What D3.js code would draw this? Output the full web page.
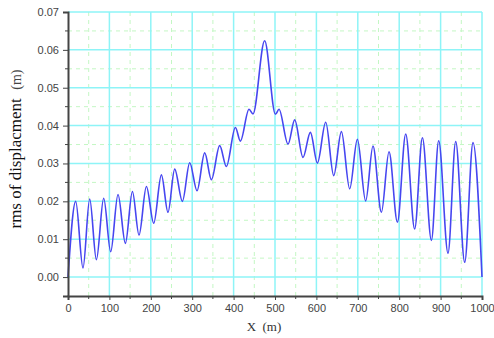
<!DOCTYPE html>
<html>
<head>
<meta charset="utf-8">
<script src="https://cdn.jsdelivr.net/npm/d3@7"></script>
<style>
  body { margin: 0; background: #fff; }
  svg { display: block; }
</style>
</head>
<body>
<svg width="494" height="338"></svg>
<script>
// peaks and troughs: position along X (m), rms (m)
var xPos = [0, 18.6, 36.2, 52.4, 68.6, 86.2, 103.1, 120.8, 138.6, 155.6, 171.5,
    189.4, 207, 225.6, 241.5, 257.7, 276.3, 294, 311.6, 330.2, 346.4, 366.4,
    382.6, 404.3, 416.4, 437.2, 446.9, 475, 501, 509.7, 531.4, 547.6, 567.6,
    585.5, 602.4, 622.5, 641.8, 660.4, 680.4, 699, 719, 736.7, 757, 775.4,
    795.7, 815.7, 837.4, 856, 877.8, 895.4, 917.9, 936.5, 958.2, 978.3, 1000];
var rms = [0, 0.0200, 0.0024, 0.0206, 0.0046, 0.0208, 0.0067, 0.0218, 0.0089, 0.0226, 0.0111,
    0.0239, 0.0142, 0.0270, 0.0171, 0.0285, 0.0200, 0.0302, 0.0228, 0.0328, 0.0257, 0.0347,
    0.0292, 0.0395, 0.0359, 0.0443, 0.0431, 0.0624, 0.0430, 0.0443, 0.0351, 0.0415, 0.0316,
    0.0382, 0.0301, 0.0409, 0.0268, 0.0384, 0.0233, 0.0364, 0.0201, 0.0346, 0.0171, 0.0331,
    0.0145, 0.0378, 0.0127, 0.0368, 0.0097, 0.0360, 0.0063, 0.0358, 0.0039, 0.0355, 0];

var xTicks = d3.range(0, 1001, 100);
var xMinor = d3.range(50, 1000, 100);
var yTicks = d3.range(0, 0.0701, 0.01);
var yMinor = d3.range(0.005, 0.07, 0.01);

var svg = d3.select("svg");
var mLeft = 68, mRight = 482, mTop = 12, mBottom = 296;

var x = d3.scaleLinear().domain([0, 1000]).range([mLeft, mRight]);
var y = d3.scaleLinear().domain([-0.005, 0.07]).range([mBottom, mTop]);

var grid = svg.append("g");

// minor grid, dashed light green
grid.selectAll(".vmin").data(xMinor).enter().append("line")
    .attr("x1", d => x(d)).attr("x2", d => x(d))
    .attr("y1", mTop).attr("y2", mBottom)
    .attr("stroke", "#c4f7c4").attr("stroke-width", 1)
    .attr("stroke-dasharray", "4,4");
grid.selectAll(".hmin").data(yMinor).enter().append("line")
    .attr("x1", mLeft).attr("x2", mRight)
    .attr("y1", d => y(d)).attr("y2", d => y(d))
    .attr("stroke", "#c4f7c4").attr("stroke-width", 1)
    .attr("stroke-dasharray", "4,4");

// major grid, cyan
grid.selectAll(".vmaj").data(xTicks.slice(1)).enter().append("line")
    .attr("x1", d => x(d)).attr("x2", d => x(d))
    .attr("y1", mTop).attr("y2", mBottom)
    .attr("stroke", "#8ef4f7").attr("stroke-width", 1.5);
grid.selectAll(".hmaj").data(yTicks).enter().append("line")
    .attr("x1", mLeft).attr("x2", mRight)
    .attr("y1", d => y(d)).attr("y2", d => y(d))
    .attr("stroke", "#8ef4f7").attr("stroke-width", 1.5);

// curve
var line = d3.line()
    .x(d => x(d[0]))
    .y(d => y(d[1]))
    .curve(d3.curveMonotoneX);

svg.append("path")
    .datum(d3.zip(xPos, rms))
    .attr("d", line)
    .attr("fill", "none")
    .attr("stroke", "#4646f0")
    .attr("stroke-width", 1.6);

// axes
var xAxis = svg.append("g")
    .attr("transform", "translate(0," + mBottom + ")")
    .call(d3.axisBottom(x).tickValues(xTicks).tickFormat(d3.format("d")).tickSize(4).tickPadding(4));
xAxis.append("g").selectAll("line").data(xMinor).enter().append("line")
    .attr("x1", d => x(d)).attr("x2", d => x(d))
    .attr("y1", 0).attr("y2", 3).attr("stroke", "#444");

var yAxis = svg.append("g")
    .attr("transform", "translate(" + mLeft + ",0)")
    .call(d3.axisLeft(y).tickValues(yTicks).tickFormat(d3.format(".2f")).tickSize(5).tickPadding(4));
yAxis.append("g").selectAll("line").data(yMinor).enter().append("line")
    .attr("y1", d => y(d)).attr("y2", d => y(d))
    .attr("x1", 0).attr("x2", -3).attr("stroke", "#444");

[xAxis, yAxis].forEach(function(a) {
    a.select(".domain").attr("stroke", "#444").attr("stroke-width", 2);
    a.selectAll(".tick line").attr("stroke", "#444");
    a.selectAll("text")
        .attr("fill", "#444")
        .style("font-family", "Liberation Sans, Arial, sans-serif")
        .style("font-size", "11px");
});

// titles
svg.append("text")
    .attr("x", 264).attr("y", 331)
    .attr("text-anchor", "middle")
    .style("font-family", "Liberation Serif, Times New Roman, serif")
    .style("font-size", "13px")
    .attr("fill", "#333")
    .attr("xml:space", "preserve")
    .text("X  (m)");

var yTitle = svg.append("text")
    .attr("transform", "translate(21,149) rotate(-90)")
    .attr("text-anchor", "middle")
    .style("font-family", "Liberation Serif, Times New Roman, serif")
    .style("font-size", "17px")
    .attr("fill", "#111")
    .attr("xml:space", "preserve");
yTitle.append("tspan").text("rms of displacment  ");
yTitle.append("tspan").style("font-size", "14px").attr("fill", "#444").text("(m)");
</script>
</body>
</html>
